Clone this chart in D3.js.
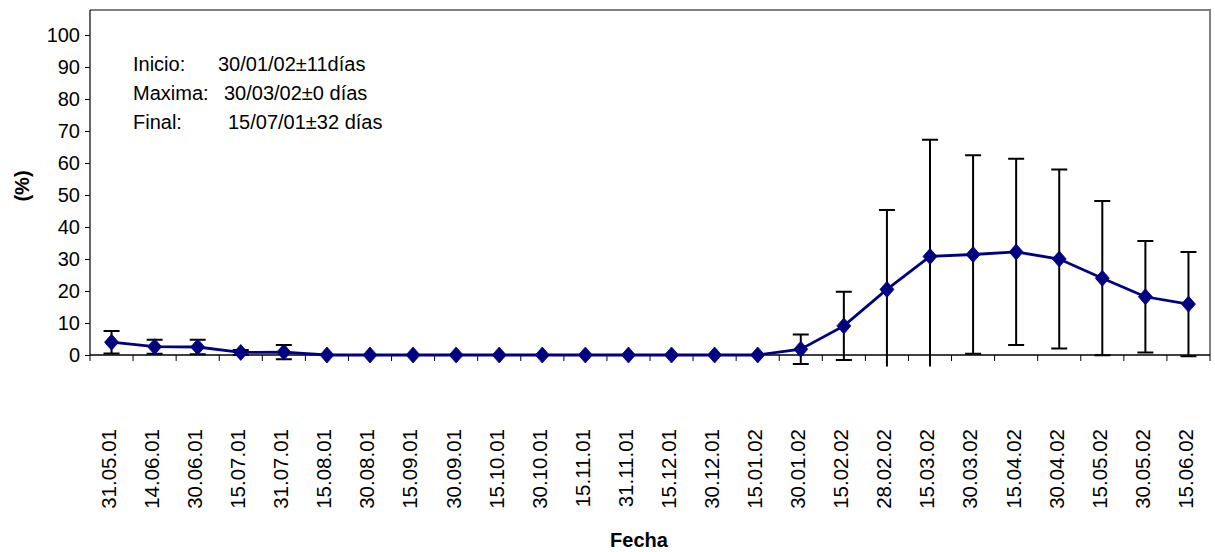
<!DOCTYPE html>
<html>
<head>
<meta charset="utf-8">
<script src="https://cdn.jsdelivr.net/npm/d3@7/dist/d3.min.js"></script>
<style>
  html, body { margin: 0; padding: 0; background: #fff; }
  svg { display: block; font-family: Arial, "Liberation Sans", sans-serif; }
</style>
</head>
<body>
<svg id="chart" width="1215" height="552"></svg>
<script>
// Sampling dates (x categories)
const fechas = ["31.05.01", "14.06.01", "30.06.01", "15.07.01", "31.07.01", "15.08.01",
  "30.08.01", "15.09.01", "30.09.01", "15.10.01", "30.10.01", "15.11.01", "31.11.01",
  "15.12.01", "30.12.01", "15.01.02", "30.01.02", "15.02.02", "28.02.02", "15.03.02",
  "30.03.02", "15.04.02", "30.04.02", "15.05.02", "30.05.02", "15.06.02"];

// Mean percentage per date
const media = [4.0, 2.6, 2.5, 0.8, 0.9, 0, 0, 0, 0, 0, 0, 0, 0, 0, 0, 0,
  1.8, 9.1, 20.5, 30.8, 31.4, 32.2, 30.0, 24.0, 18.2, 15.9];

// Standard deviation (symmetric error bars)
const desv = [3.5, 2.2, 2.3, 0.8, 2.2, 0, 0, 0, 0, 0, 0, 0, 0, 0, 0, 0,
  4.6, 10.7, 24.8, 36.5, 31.0, 29.1, 28.0, 24.1, 17.4, 16.3];

const yTicks = [0, 10, 20, 30, 40, 50, 60, 70, 80, 90, 100];

const notas = [
  ["Inicio:", "30/01/02\u00B111días"],
  ["Maxima:", "30/03/02\u00B10 días"],
  ["Final:", "15/07/01\u00B132 días"]
];
const notaOffsets = [85, 91, 95];

const svg = d3.select("#chart");
const plot = { left: 90, right: 1210, top: 10, bottom: 355 };

const x = d3.scaleBand().domain(fechas).range([plot.left, plot.right]).padding(0);
const y = d3.scaleLinear().domain([0, 100]).range([plot.bottom, 35]);
const cx = d => x(d) + x.bandwidth() / 2;

// Plot area border (top and right)
svg.append("path")
  .attr("d", `M${plot.left},${plot.top}H${plot.right}V${plot.bottom}`)
  .attr("fill", "none").attr("stroke", "#808080").attr("stroke-width", 2);

// Y axis
const yAxis = svg.append("g").attr("transform", `translate(${plot.left},0)`)
  .call(d3.axisLeft(y).tickValues(yTicks).tickSize(5).tickPadding(5));
yAxis.select(".domain").remove();
yAxis.append("line").attr("x1", 0).attr("x2", 0)
  .attr("y1", plot.top).attr("y2", plot.bottom).attr("stroke", "#000").attr("stroke-width", 1.2);
yAxis.selectAll(".tick line").attr("stroke", "#000");
yAxis.selectAll(".tick text").attr("font-size", 20).attr("fill", "#000")
  .attr("font-family", "Arial, 'Liberation Sans', sans-serif");

// X axis: line, boundary ticks, rotated labels
const gx = svg.append("g");
gx.append("line").attr("x1", plot.left).attr("x2", plot.right)
  .attr("y1", y(0)).attr("y2", y(0)).attr("stroke", "#000").attr("stroke-width", 1.5);
const bounds = fechas.map(f => x(f)).concat([plot.right]);
gx.selectAll("line.tk").data(bounds).join("line").attr("class", "tk")
  .attr("x1", d => d).attr("x2", d => d)
  .attr("y1", y(0)).attr("y2", y(0) + 6).attr("stroke", "#000").attr("stroke-width", 1);
gx.selectAll("text").data(fechas).join("text")
  .attr("transform", d => `translate(${cx(d) - 3},429) rotate(-90)`)
  .attr("text-anchor", "end").attr("dy", "0.36em")
  .attr("font-size", 20.5).attr("fill", "#000").text(d => d);

// Error bars, clipped at the bottom of the plot area
svg.append("clipPath").attr("id", "clip-err").append("rect")
  .attr("x", 0).attr("y", 0).attr("width", 1215).attr("height", y(-3.6));
const errData = fechas.map((f, i) => ({ f, m: media[i], s: desv[i] })).filter(d => d.s > 0);
const eb = svg.append("g").attr("clip-path", "url(#clip-err)")
  .attr("stroke", "#000").attr("fill", "none");
const capW = 8;
eb.selectAll("path").data(errData).join("path")
  .attr("stroke-width", 2)
  .attr("d", d => {
    const xc = cx(d.f), y1 = y(d.m + d.s), y2 = y(d.m - d.s);
    return `M${xc},${y1}V${y2}M${xc - capW},${y1}H${xc + capW}M${xc - capW},${y2}H${xc + capW}`;
  });

// Mean line
const line = d3.line().x((d, i) => cx(fechas[i])).y(d => y(d));
svg.append("path").datum(media).attr("d", line)
  .attr("fill", "none").attr("stroke", "#000080").attr("stroke-width", 2.8);

// Diamond markers
const hw = 7, hh = 8;
svg.append("g").selectAll("path").data(media).join("path")
  .attr("fill", "#000080").attr("stroke", "#000080").attr("stroke-width", 0.8)
  .attr("d", (d, i) => {
    const px = cx(fechas[i]), py = y(d);
    return `M${px},${py - hh}L${px + hw},${py}L${px},${py + hh}L${px - hw},${py}Z`;
  });

// Axis titles
svg.append("text").attr("transform", `translate(29,186) rotate(-90)`)
  .attr("text-anchor", "middle").attr("font-size", 20).attr("font-weight", "bold")
  .text("(%)");
svg.append("text").attr("x", 639).attr("y", 547)
  .attr("text-anchor", "middle").attr("font-size", 20).attr("font-weight", "bold")
  .text("Fecha");

// Phenology notes
const ng = svg.append("g").attr("font-size", 20).attr("fill", "#000");
notas.forEach((n, i) => {
  const by = 71 + i * 29;
  ng.append("text").attr("x", 133).attr("y", by).text(n[0]);
  ng.append("text").attr("x", 133 + notaOffsets[i]).attr("y", by).text(n[1]);
});
</script>
</body>
</html>
